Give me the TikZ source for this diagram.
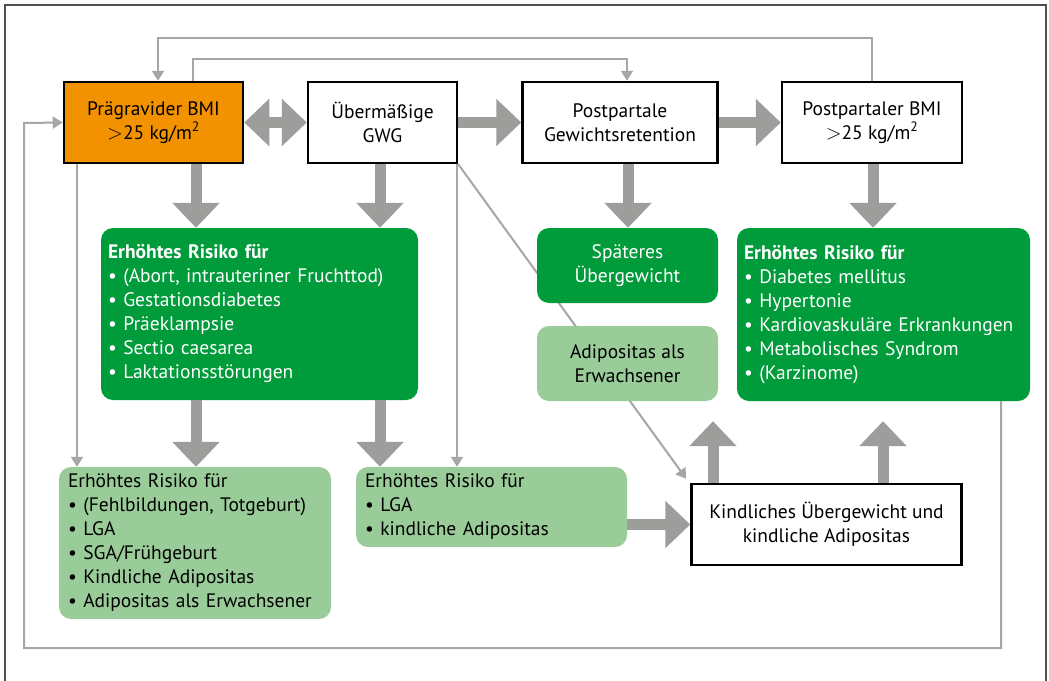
\documentclass[tikz,border=0pt]{standalone}
\usepackage{fontspec}
\setmainfont{PT Sans}
\usetikzlibrary{arrows.meta,calc}
\definecolor{orng}{HTML}{F39200}
\definecolor{dgreen}{HTML}{009B3A}
\definecolor{lgreen}{HTML}{99CC99}
\definecolor{arr}{HTML}{9D9D9C}
\definecolor{thinc}{HTML}{A6A6A6}
\definecolor{framec}{HTML}{505050}
\begin{document}
\begin{tikzpicture}[x=1pt,y=-1pt,font=\fontsize{19.5}{24}\selectfont,
  wbox/.style={draw=black,line width=2.5pt,align=center,inner sep=0pt},
  gbox/.style={rounded corners=12pt,inner xsep=7pt,inner ysep=0pt,align=left},
  big/.style={arr,line width=11pt,-{Triangle[length=25pt,width=46pt]}},
  bigboth/.style={arr,line width=11pt,{Triangle[length=25pt,width=46pt]}-{Triangle[length=25pt,width=46pt]}},
  tn/.style={thinc,line width=2pt,-{Triangle[length=10pt,width=12pt]}},
  tl/.style={thinc,line width=2pt}]
\useasboundingbox (0,0) rectangle (1049,680);
\fill[white] (0,0) rectangle (1049,680);
\draw[framec,line width=1.5pt] (5,690) -- (5,5) -- (1046,5) -- (1046,690);

% coordinates
\coordinate (xA) at (77,0);
\coordinate (xB) at (196,0);
\coordinate (xC) at (380,0);
\coordinate (xD) at (457,0);
\coordinate (xE) at (628,0);
\coordinate (xF) at (873,0);
\coordinate (xG) at (713,0);
\coordinate (xH) at (883,0);
\coordinate (xL1) at (158,0);
\coordinate (xL2) at (193,0);
\coordinate (xR) at (1001,0);
\coordinate (t1) at (872,38);
\coordinate (t1b) at (158,38);
\coordinate (t2) at (193,59);
\coordinate (t2b) at (627,59);
\coordinate (b1) at (1001,648);
\coordinate (b2) at (24,648);
\coordinate (b3) at (24,123);

% top boxes
\node[wbox,fill=orng,minimum width=179pt,minimum height=81pt] (pbmi) at (153.5,122.5) {Prägravider BMI\\$>$25 kg/m\textsuperscript{2}};
\node[wbox,fill=white,minimum width=149pt,minimum height=81pt] (gwg) at (382.5,122.5) {Übermäßige\\GWG};
\node[wbox,fill=white,minimum width=195pt,minimum height=81pt] (ppr) at (620,122.5) {Postpartale\\Gewichtsretention};
\node[wbox,fill=white,minimum width=180pt,minimum height=81pt] (ppbmi) at (872,122.5) {Postpartaler BMI\\$>$25 kg/m\textsuperscript{2}};
\node[wbox,fill=white,minimum width=270pt,minimum height=81pt] (kind) at (826.5,524.5) {Kindliches Übergewicht und\\kindliche Adipositas};

% diagonal line behind green boxes
\draw[tn] (gwg.south east) -- ($(kind.north west)+(-4,-4)$);

% green boxes
\node[gbox,fill=dgreen,text=white,text width=303pt,minimum height=172pt] (risk1) at (259.5,314) {\textbf{Erhöhtes Risiko für}\\\textbullet\ (Abort, intrauteriner Fruchttod)\\\textbullet\ Gestationsdiabetes\\\textbullet\ Präeklampsie\\\textbullet\ Sectio caesarea\\\textbullet\ Laktationsstörungen};
\node[gbox,fill=dgreen,text=white,align=center,minimum width=181pt,minimum height=75pt] (spaet) at (627.5,265.5) {Späteres\\Übergewicht};
\node[gbox,fill=lgreen,align=center,minimum width=181pt,minimum height=75pt] (adip) at (627.5,363.5) {Adipositas als\\Erwachsener};
\node[gbox,fill=dgreen,text=white,text width=279pt,minimum height=173pt] (risk2) at (883.5,314.5) {\textbf{Erhöhtes Risiko für}\\\textbullet\ Diabetes mellitus\\\textbullet\ Hypertonie\\\textbullet\ Kardiovaskuläre Erkrankungen\\\textbullet\ Metabolisches Syndrom\\\textbullet\ (Karzinome)};
\node[gbox,fill=lgreen,inner xsep=9pt,text width=254pt,minimum height=152pt] (low1) at (195,543) {Erhöhtes Risiko für\\\textbullet\ (Fehlbildungen, Totgeburt)\\\textbullet\ LGA\\\textbullet\ SGA/Frühgeburt\\\textbullet\ Kindliche Adipositas\\\textbullet\ Adipositas als Erwachsener};
\node[gbox,fill=lgreen,inner xsep=9pt,text width=253pt,minimum height=80pt] (low2) at (491.5,507) {Erhöhtes Risiko für\\\textbullet\ LGA\\\textbullet\ kindliche Adipositas};

% thick arrows
\draw[bigboth] (pbmi.east) -- (gwg.west);
\draw[big] (gwg.east) -- (ppr.west);
\draw[big] (ppr.east) -- (ppbmi.west);
\draw[big] (pbmi.south -| xB) -- (risk1.north -| xB);
\draw[big] (gwg.south -| xC) -- (risk1.north -| xC);
\draw[big] (risk1.south -| xB) -- (low1.north -| xB);
\draw[big] (risk1.south -| xC) -- (low2.north -| xC);
\draw[big] (ppr.south -| xE) -- (spaet.north -| xE);
\draw[big] (ppbmi.south -| xF) -- (risk2.north -| xF);
\draw[big,shorten >=20pt] (kind.north -| xG) -- (adip.south -| xG);
\draw[big,shorten >=20pt] (kind.north -| xH) -- (risk2.south -| xH);
\draw[big] (low2.east |- kind.west) -- (kind.west);

% thin arrows
\draw[tn] (pbmi.south -| xA) -- (low1.north -| xA);
\draw[tn] (gwg.south -| xD) -- (low2.north -| xD);
\draw[tn] (ppbmi.north -| t1) -- (t1) -- (t1b) -- (pbmi.north -| xL1);
\draw[tn] (pbmi.north -| xL2) -- (t2) -- (t2b) -- (ppr.north -| t2b);
\draw[tn] (risk2.south -| xR) -- (b1) -- (b2) -- (b3) -- (pbmi.west);
\end{tikzpicture}
\end{document}
